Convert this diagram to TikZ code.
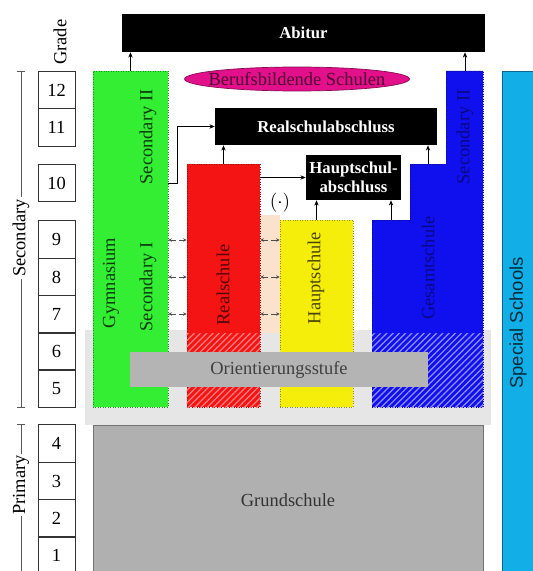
\documentclass[tikz,border=0pt]{standalone}
\usepackage{fontspec}
\setmainfont{Liberation Serif}
\setsansfont{Liberation Sans}
\usetikzlibrary{positioning, arrows.meta, fit, shapes.geometric, patterns.meta}
\definecolor{gymgreen}{HTML}{33EE33}
\definecolor{realred}{HTML}{F51414}
\definecolor{hauptyellow}{HTML}{F5EE0A}
\definecolor{gesblue}{HTML}{1010EE}
\definecolor{specialcyan}{HTML}{12AEE8}
\definecolor{bbsmagenta}{HTML}{E2108A}
\definecolor{orientgray}{HTML}{B4B4B4}
\definecolor{grundgray}{HTML}{B0B0B0}
\definecolor{zonegray}{HTML}{E6E6E6}
\definecolor{permpeach}{HTML}{FBE2CC}

\begin{document}
\begin{tikzpicture}[x=0.02cm, y=-0.02cm,
    every node/.style={font=\fontsize{10.5}{12}\selectfont, align=center},
    exam/.style={fill=black, text=white, inner sep=0pt, font=\fontsize{9.5}{11}\selectfont\bfseries},
    school/.style={fill=#1, draw=#1!60!black, densely dotted, inner sep=0pt},
    grade/.style={draw=black!80, minimum width=0.74cm, minimum height=0.75cm, inner sep=0pt},
    arr/.style={-{Stealth[length=3pt, width=2.5pt]}, thin},
    perm/.style={{Stealth[length=2pt, width=2pt]}-{Stealth[length=2pt, width=2pt]}, densely dashed, thin, black!70}]
  \useasboundingbox (0,0) rectangle (533,571);

  % grades
  \foreach \g/\y in {12/90, 11/127.5, 10/183, 9/239.5, 8/277, 7/314.5, 6/351.5, 5/388.5, 4/443.5, 3/481, 2/518.5, 1/555.5}
    \node[grade] (g\g) at (56.5,\y) {\g};
  \node[rotate=90, anchor=west] (gradelbl) at ([xshift=2pt]g12.north) {Grade};

  % levels
  \draw[{Bar[width=5pt]}-{Bar[width=5pt]}, black!65] (g12.north -| 21,0) -- (g5.south -| 21,0);
  \node[rotate=90, fill=white, inner sep=1pt] (seclbl) at (21,238) {Secondary};
  \draw[{Bar[width=5pt]}-, black!65] (g4.north -| 21,0) -- (21,580);
  \node[rotate=90, fill=white, inner sep=1pt] (primlbl) at (21,485) {Primary};

  % grades 5 and 6
  \fill[zonegray] (85,330) rectangle (491,425);
  \fill[permpeach] (260,215) rectangle (280,333);

  % school types
  \node[school=gymgreen, fit={(93,71) (168,407)}] (gym) {};
  \node[school=realred, fit={(187,164) (260,407)}] (real) {};
  \node[school=hauptyellow, fit={(280,220) (353,407)}] (haupt) {};
  \filldraw[fill=gesblue, draw=gesblue!60!black, densely dotted]
    (372,407) -- (372,220) -- (410,220) -- (410,164) -- (446,164) -- (446,71) -- (483,71) -- (483,407) -- cycle;
  \coordinate (ges1) at (391,220);
  \coordinate (ges2) at (428,164);
  \coordinate (ges3) at (465,71);

  \fill[pattern={Lines[angle=45, distance=2.5pt, line width=0.7pt]}, pattern color=realred!55!white]
    (real.south west) rectangle (real.east |- 0,333);
  \fill[pattern={Lines[angle=45, distance=2.5pt, line width=0.7pt]}, pattern color=gesblue!45!white]
    (372,333) rectangle (483,407);

  \node[rotate=90, text=gymgreen!25!black] at (111,283) {Gymnasium};
  \node[rotate=90, text=gymgreen!25!black] at (148,287) {Secondary I};
  \node[rotate=90, text=gymgreen!25!black] at (148,137) {Secondary II};
  \node[rotate=90, text=realred!35!black] at (223,285) {Realschule};
  \node[rotate=90, text=hauptyellow!30!black] at (316,278) {Hauptschule};
  \node[rotate=90, text=gesblue!55!black] at (428,268) {Gesamtschule};
  \node[rotate=90, text=gesblue!55!black] at (465,137) {Secondary II};

  \node[fill=orientgray, minimum width=5.96cm, minimum height=0.7cm, inner sep=0pt, text=black!75] (orient) at (279,369.5) {Orientierungsstufe};
  \node[fill=grundgray, draw=black!55, minimum width=7.8cm, minimum height=3cm, inner sep=0pt, text=black!80] (grund) at (288,500) {Grundschule};
  \node[fill=specialcyan, draw=specialcyan!60!black, minimum width=0.64cm, minimum height=10.08cm, inner sep=0pt] (special) at (518,323) {};
  \node[rotate=90, font=\sffamily\fontsize{10.5}{12}\selectfont, text=specialcyan!25!black] at (special) {Special Schools};

  % qualifications
  \node[exam, minimum width=7.26cm, minimum height=0.76cm] (abitur) at (303.5,33) {Abitur};
  \node[exam, minimum width=4.44cm, minimum height=0.74cm] (rabs) at (326,126.5) {Realschulabschluss};
  \node[exam, minimum width=1.9cm, minimum height=0.9cm] (habs) at (353.5,177.5) {Hauptschul-\\abschluss};
  \node[ellipse, fill=bbsmagenta, draw=bbsmagenta!60!black, minimum width=4.5cm, minimum height=0.48cm, inner sep=0pt,
    label={[text=bbsmagenta!35!black]center:Berufsbildende Schulen}] (bbs) at (297,79) {};

  % transitions
  \draw[arr] (gym.north) -- (gym.north |- abitur.south);
  \draw[arr] (ges3) -- (ges3 |- abitur.south);
  \draw[arr] (real.north) -- (real.north |- rabs.south);
  \draw[arr] (ges2) -- (ges2 |- rabs.south);
  \draw[arr] (haupt.north) -- (haupt.north |- habs.south);
  \draw[arr] (ges1) -- (ges1 |- habs.south);
  \draw[arr] (gym.east |- 0,183) -- ++(9,0) |- (rabs.west);
  \draw[arr] (habs.west -| real.east) -- (habs.west);
  \node (opt) at (280,203) {$(\cdot)$};

  \foreach \y in {240,277,314} {
    \draw[perm] (gym.east |- 0,\y) -- (real.west |- 0,\y);
    \draw[perm] (real.east |- 0,\y) -- (haupt.west |- 0,\y);
  }
\end{tikzpicture}
\end{document}
